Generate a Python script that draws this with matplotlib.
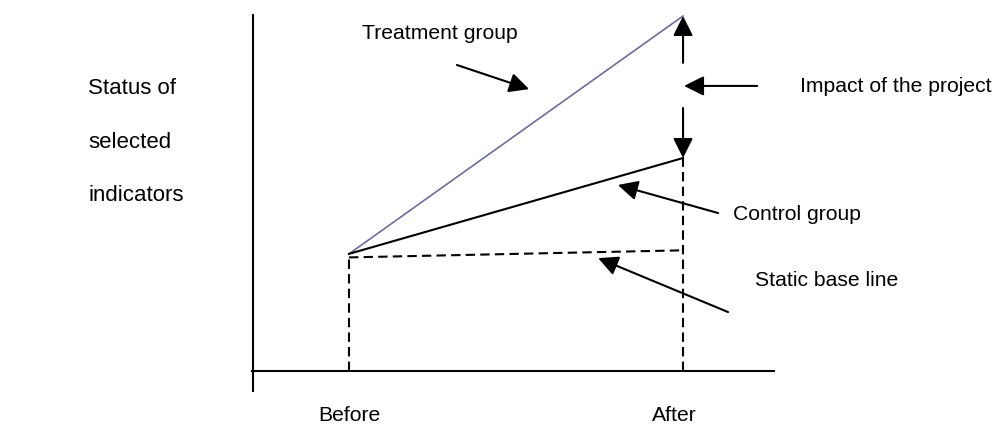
import matplotlib
matplotlib.use("Agg")
import matplotlib.pyplot as plt

# data: position 0 = Before, 1 = After
periods = ["Before", "After"]
period_x = [0, 1]
treatment = [33, 100]
control = [33, 60]
baseline = [32, 34]
side_label = ["Status of", "selected", "indicators"]

fig = plt.figure(figsize=(9.98, 4.25), dpi=100)
ax = fig.add_axes([0, 0, 1, 1])
ax.set_xlim(-1.045, 1.943)
ax.set_ylim(-15.2, 104.5)
ax.axis("off")

black = "black"
lw = 1.5
dash = (0, (4.5, 2.5))

# axes lines
ax.plot([-0.287, -0.287], [-5.9, 100.6], color=black, lw=lw, solid_capstyle="butt")
ax.plot([-0.293, 1.275], [0, 0], color=black, lw=lw, solid_capstyle="butt")

# series
ax.plot(period_x, treatment, color="#6b6ba6", lw=1.2)
ax.plot(period_x, control, color=black, lw=lw)
ax.plot(period_x, baseline, color=black, lw=lw, ls=dash)

# dashed drop lines
ax.plot([0, 0], [0, baseline[0]], color=black, lw=lw, ls=dash)
ax.plot([1, 1], [0, control[1]], color=black, lw=lw, ls=dash)

arrow = dict(arrowstyle="-|>,head_length=0.5,head_width=0.25", color=black,
             lw=lw, mutation_scale=24, shrinkA=0, shrinkB=0)

# impact arrows
ax.annotate("", xy=(1, treatment[1]), xytext=(1, 86.8), arrowprops=arrow)
ax.annotate("", xy=(1, control[1]), xytext=(1, 74.1), arrowprops=arrow)
ax.annotate("", xy=(1.003, 80.3), xytext=(1.222, 80.3), arrowprops=arrow)

# label pointers
ax.annotate("", xy=(0.539, 79.4), xytext=(0.323, 86.2), arrowprops=arrow)
ax.annotate("", xy=(0.805, 52.4), xytext=(1.105, 44.5), arrowprops=arrow)
ax.annotate("", xy=(0.746, 31.8), xytext=(1.135, 16.6), arrowprops=arrow)

font = "Liberation Sans"
lab = dict(fontfamily=font, fontsize=15.2, va="center", ha="left")
ax.text(0.039, 95.2, "Treatment group", **lab)
ax.text(1.350, 80.0, "Impact of the project", **lab)
ax.text(1.150, 44.2, "Control group", **lab)
ax.text(1.216, 25.6, "Static base line", **lab)

ax.text(0, -12.4, periods[0], fontfamily=font, fontsize=15.2, ha="center", va="center")
ax.text(0.973, -12.4, periods[1], fontfamily=font, fontsize=15.2, ha="center", va="center")

side = dict(fontfamily=font, fontsize=16, va="center", ha="left")
for y, txt in zip([79.7, 64.5, 49.3], side_label):
    ax.text(-0.781, y, txt, **side)

fig.savefig("out.png", dpi=100)
